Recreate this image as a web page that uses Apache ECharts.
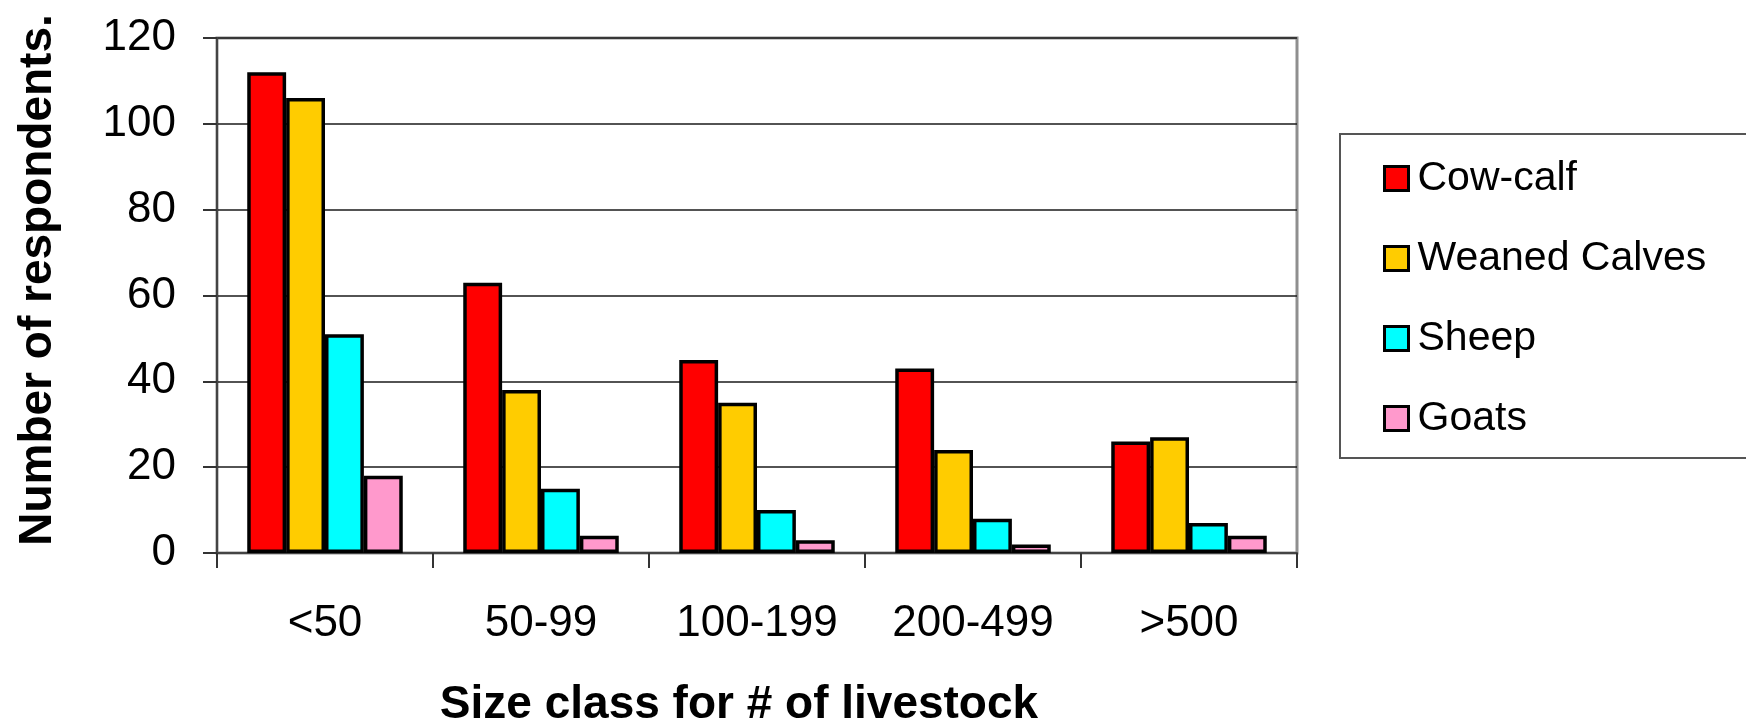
<!DOCTYPE html>
<html>
<head>
<meta charset="utf-8">
<title>Respondents by herd size class</title>
<script src="https://cdn.jsdelivr.net/npm/echarts@6/dist/echarts.min.js"></script>
<style>
  html, body { margin: 0; padding: 0; background: #fff; }
  #chart { width: 1746px; height: 721px; }
</style>
</head>
<body>
<div id="chart"></div>
<script>
// Herd size classes and respondent counts per livestock type
const sizeClasses = ['<50', '50-99', '100-199', '200-499', '>500'];
const cowCalf = [112, 63, 45, 43, 26];
const weanedCalves = [106, 38, 35, 24, 27];
const sheep = [51, 15, 10, 8, 7];
const goats = [18, 4, 3, 2, 4];
const seriesNames = ['Cow-calf', 'Weaned Calves', 'Sheep', 'Goats'];
const seriesColors = ['#FF0000', '#FFCC00', '#00FFFF', '#FF99CC'];
const yTicks = { min: 0, max: 120, interval: 20 };

const FONT = "'Liberation Sans', Arial, sans-serif";
const chart = echarts.init(document.getElementById('chart'), null, { renderer: 'canvas' });

const values = [cowCalf, weanedCalves, sheep, goats];
const series = values.map((data, i) => ({
  name: seriesNames[i],
  type: 'bar',
  data: data,
  barGap: '0%',
  barCategoryGap: '28%',
  itemStyle: { color: seriesColors[i], borderColor: '#000', borderWidth: 3.5 },
  emphasis: { disabled: true }
}));

chart.setOption({
  animation: false,
  backgroundColor: '#fff',
  textStyle: { fontFamily: FONT },
  grid: {
    left: 217, right: 449, top: 38, bottom: 168,
    show: true, borderColor: '#8f8f8f', borderWidth: 3, backgroundColor: 'transparent'
  },
  xAxis: {
    type: 'category',
    data: sizeClasses,
    axisLine: { show: true, lineStyle: { color: '#444', width: 2 } },
    axisTick: { show: true, length: 15, interval: 0, lineStyle: { color: '#333', width: 2 } },
    axisLabel: { fontFamily: FONT, fontSize: 44, color: '#000', margin: 49, interval: 0 },
    splitLine: { show: false }
  },
  yAxis: {
    type: 'value',
    min: yTicks.min, max: yTicks.max, interval: yTicks.interval,
    axisLine: { show: true, lineStyle: { color: '#444', width: 2 } },
    axisTick: { show: true, length: 14, lineStyle: { color: '#333', width: 2 } },
    axisLabel: { fontFamily: FONT, fontSize: 44, color: '#000', margin: 41 },
    splitLine: { show: true, lineStyle: { color: '#1a1a1a', width: 1.5 } }
  },
  legend: {
    orient: 'vertical',
    left: 1378, top: 153,
    itemWidth: 24, itemHeight: 24, itemGap: 39,
    icon: 'rect',
    itemStyle: { borderColor: '#000', borderWidth: 3 },
    textStyle: { fontFamily: FONT, fontSize: 41, color: '#000', padding: [0, 0, 0, 4] },
    data: seriesNames,
    selectedMode: false
  },
  graphic: [
    {
      type: 'rect', z: -1,
      shape: { x: 1340, y: 134, width: 420, height: 324 },
      style: { fill: '#fff', stroke: '#555', lineWidth: 2 }
    },
    {
      type: 'text',
      x: 38, y: 280, rotation: Math.PI / 2,
      style: {
        text: 'Number of respondents.', fontFamily: FONT, fontSize: 46, fontWeight: 'bold',
        fill: '#000', textAlign: 'center', textVerticalAlign: 'middle'
      }
    },
    {
      type: 'text',
      x: 739, y: 705,
      style: {
        text: 'Size class for # of livestock', fontFamily: FONT, fontSize: 46, fontWeight: 'bold',
        fill: '#000', textAlign: 'center', textVerticalAlign: 'middle'
      }
    }
  ],
  series: series
});
</script>
</body>
</html>
